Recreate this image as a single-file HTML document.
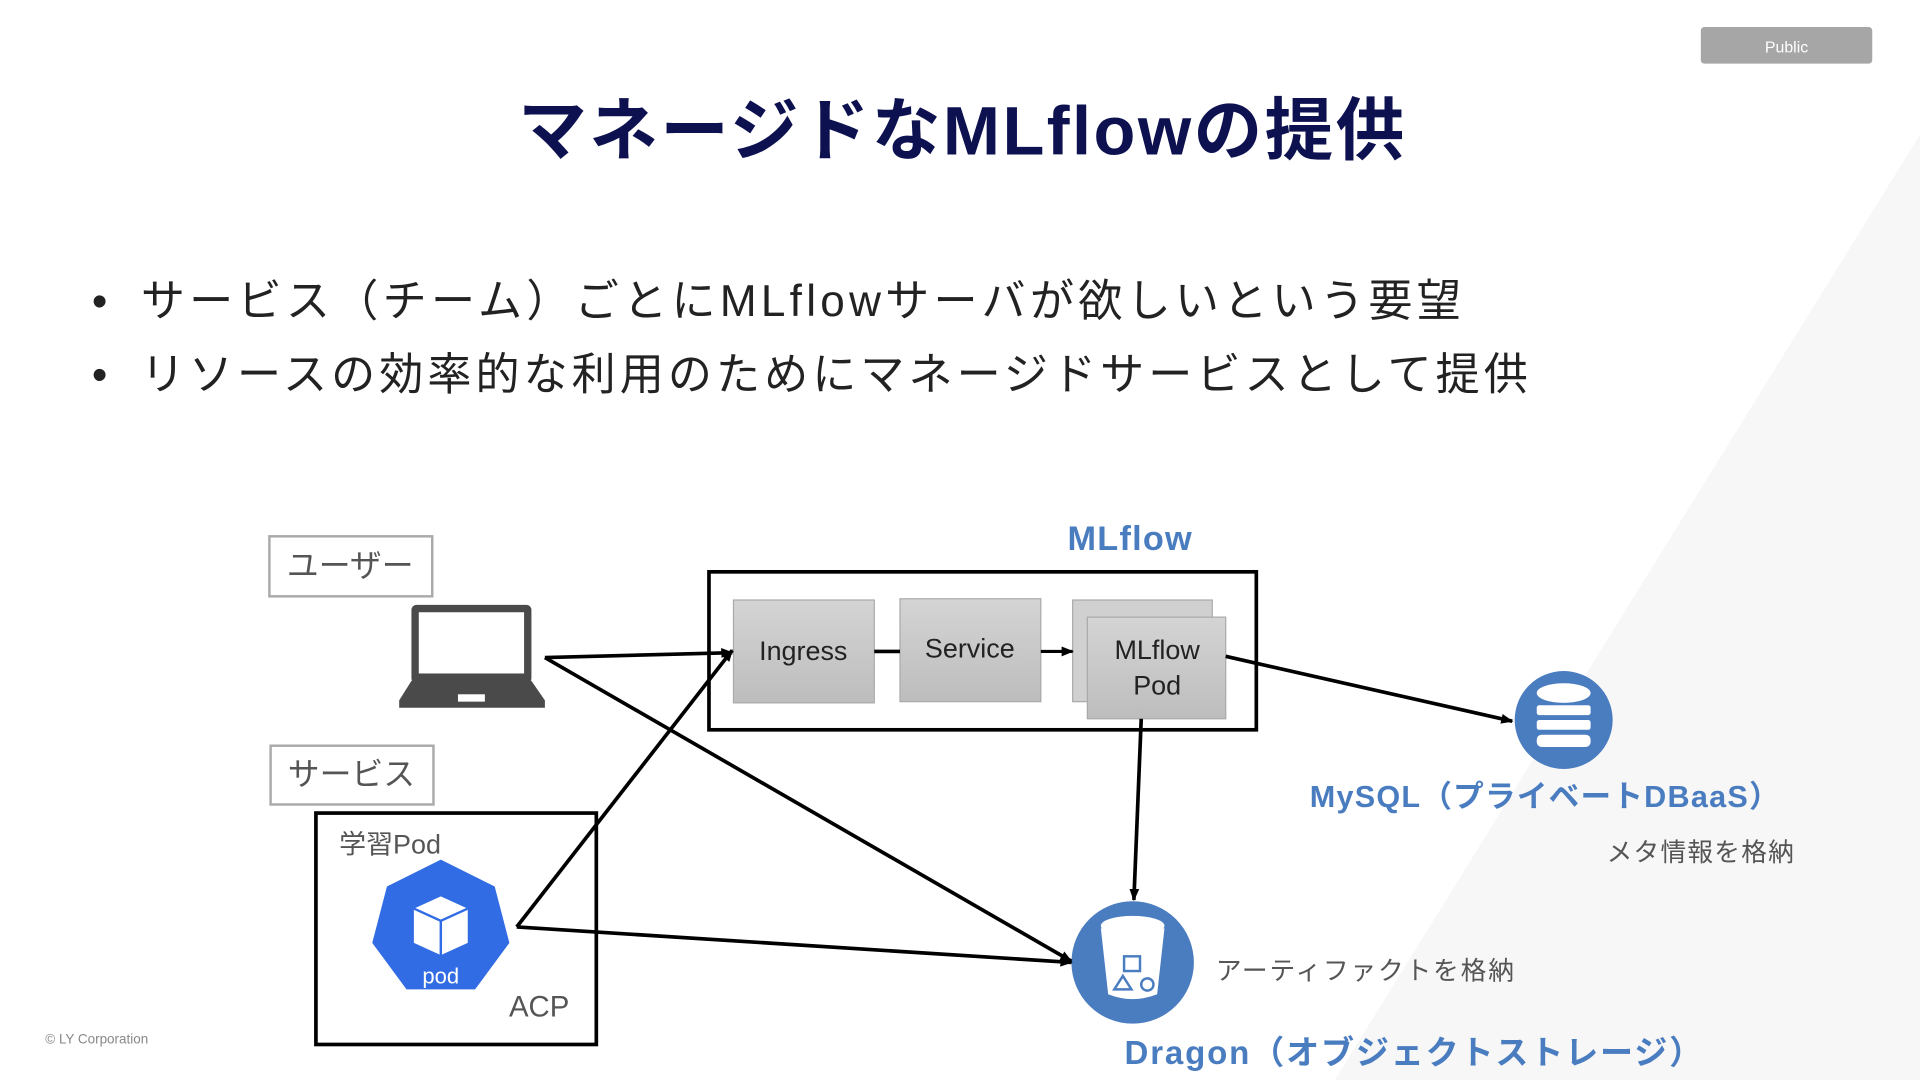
<!DOCTYPE html>
<html><head><meta charset="utf-8"><style>
html,body{margin:0;padding:0;background:#fff;}
svg{display:block;}
text{font-family:"Liberation Sans","Noto Sans CJK JP",sans-serif;}
</style></head><body>
<svg width="1920" height="1080" viewBox="0 0 1568 882" xmlns="http://www.w3.org/2000/svg">
<defs>
<marker id="ah" markerWidth="10" markerHeight="10" refX="9" refY="5" orient="auto" markerUnits="userSpaceOnUse"><path d="M0,1 L10,5 L0,9 Z" fill="#000"/></marker>
<linearGradient id="gg" x1="0" y1="0" x2="0" y2="1"><stop offset="0" stop-color="#d4d4d4"/><stop offset="1" stop-color="#bdbdbd"/></linearGradient>
</defs>
<rect width="1568" height="882" fill="#fff"/>
<polygon points="1568,110 1568,882 1090,882" fill="#f7f7f7"/>
<rect x="1389" y="22" width="140" height="30" rx="3" fill="#a6a6a6"/>
<text x="1459" y="43" font-size="13" fill="#fff" text-anchor="middle">Public</text>
<text x="786" y="126" font-size="56" font-weight="bold" fill="#0d1150" text-anchor="middle" letter-spacing="2">マネージドなMLflowの提供</text>
<text x="75" y="258" font-size="36" fill="#222">•</text>
<text x="115" y="258" font-size="36" fill="#222" letter-spacing="3.5">サービス（チーム）ごとにMLflowサーバが欲しいという要望</text>
<text x="75" y="318" font-size="36" fill="#222">•</text>
<text x="115" y="318" font-size="36" fill="#222" letter-spacing="3.3">リソースの効率的な利用のためにマネージドサービスとして提供</text>

<rect x="220" y="438" width="133" height="49" fill="#fff" stroke="#aaa" stroke-width="2"/>
<text x="286" y="471" font-size="26" fill="#555" text-anchor="middle">ユーザー</text>
<rect x="221" y="609" width="133" height="48" fill="#fff" stroke="#aaa" stroke-width="2"/>
<text x="287" y="641" font-size="26" fill="#555" text-anchor="middle">サービス</text>

<rect x="336" y="494" width="98" height="64" rx="4" fill="#4a4a4a"/>
<rect x="342" y="500" width="86" height="50" fill="#fff"/>
<path d="M336,556 L434,556 L445,572 L445,578 L326,578 L326,572 Z" fill="#4a4a4a"/>
<rect x="374" y="567" width="22" height="6" fill="#fff"/>

<text x="923" y="449" font-size="28" font-weight="bold" fill="#4a7cc0" text-anchor="middle" letter-spacing="1">MLflow</text>
<rect x="579" y="467" width="447" height="129" fill="none" stroke="#000" stroke-width="3"/>
<rect x="599" y="490" width="115" height="84" fill="url(#gg)" stroke="#aaa"/>
<text x="656" y="539" font-size="22" fill="#222" text-anchor="middle">Ingress</text>
<rect x="735" y="489" width="115" height="84" fill="url(#gg)" stroke="#aaa"/>
<text x="792" y="537" font-size="22" fill="#222" text-anchor="middle">Service</text>
<rect x="876" y="490" width="114" height="83" fill="#d0d0d0" stroke="#aaa"/>
<rect x="888" y="504" width="113" height="83" fill="url(#gg)" stroke="#aaa"/>
<text x="945" y="538" font-size="22" fill="#222" text-anchor="middle">MLflow</text>
<text x="945" y="567" font-size="22" fill="#222" text-anchor="middle">Pod</text>
<line x1="714" y1="532" x2="735" y2="532" stroke="#000" stroke-width="3"/>
<line x1="850" y1="532" x2="876" y2="532" stroke="#000" stroke-width="2.5" marker-end="url(#ah)"/>

<rect x="258" y="664" width="229" height="189" fill="none" stroke="#000" stroke-width="3"/>
<text x="277" y="697" font-size="22" fill="#555">学習Pod</text>
<text x="465" y="830" font-size="24" fill="#555" text-anchor="end">ACP</text>
<polygon points="360,702 404,724 416,770 388,808 332,808 304,770 316,724" fill="#326ce5"/>
<path d="M338,742 L360,732 L382,742 L382,770 L360,780 L338,770 Z" fill="#fff"/>
<path d="M338,742 L360,752 L382,742 M360,752 L360,780" stroke="#326ce5" stroke-width="2" fill="none"/>
<text x="360" y="803" font-size="18" fill="#fff" text-anchor="middle">pod</text>

<circle cx="1277" cy="588" r="40" fill="#4a7cc0"/>
<g fill="#fff"><ellipse cx="1277" cy="566" rx="22" ry="8"/><rect x="1255" y="576" width="44" height="8" rx="2"/><rect x="1255" y="588" width="44" height="8" rx="2"/><rect x="1255" y="600" width="44" height="10" rx="4"/></g>
<text x="1262" y="659" font-size="25" font-weight="bold" fill="#4a7cc0" text-anchor="middle" letter-spacing="1">MySQL（プライベートDBaaS）</text>
<text x="1466" y="703" font-size="21" fill="#555" text-anchor="end" letter-spacing="1">メタ情報を格納</text>

<circle cx="925" cy="786" r="50" fill="#4a7cc0"/>
<ellipse cx="925" cy="756" rx="26" ry="8" fill="#fff"/>
<path d="M899,758 L905,812 Q925,820 945,812 L951,758 Q925,768 899,758 Z" fill="#fff"/>
<g fill="none" stroke="#4a7cc0" stroke-width="2"><rect x="918" y="781" width="13" height="12"/><path d="M910,808 L917,797 L924,808 Z"/><circle cx="937" cy="804" r="5"/></g>
<text x="993" y="800" font-size="21" fill="#555" letter-spacing="1.5">アーティファクトを格納</text>
<text x="1155" y="869" font-size="27" font-weight="bold" fill="#4a7cc0" text-anchor="middle" letter-spacing="1.5">Dragon（オブジェクトストレージ）</text>

<g stroke="#000" stroke-width="3" fill="none">
<line x1="445" y1="537" x2="598" y2="533" marker-end="url(#ah)"/>
<line x1="445" y1="537" x2="875" y2="785" marker-end="url(#ah)"/>
<line x1="422" y1="757" x2="598" y2="531" marker-end="url(#ah)"/>
<line x1="422" y1="757" x2="875" y2="786" marker-end="url(#ah)"/>
<line x1="1001" y1="536" x2="1235" y2="589" marker-end="url(#ah)"/>
<line x1="932" y1="587" x2="926" y2="735" marker-end="url(#ah)"/>
</g>
<text x="37" y="852" font-size="11" fill="#888">© LY Corporation</text>
</svg>
</body></html>
